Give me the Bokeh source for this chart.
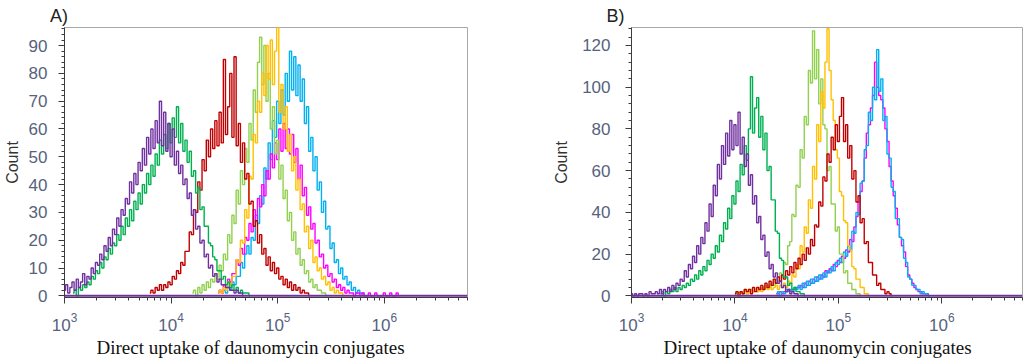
from bokeh.plotting import figure
from bokeh.layouts import row
from bokeh.models import Range1d, SingleIntervalTicker, FixedTicker, Span, Title
from bokeh.embed import file_html
from bokeh.resources import INLINE

# ---------------- data ----------------
BIN_W = 0.02           # histogram bin width in log10 units
X_MIN_LOG = 3.0
X_MAX_LOG = 6.78
X_TICK_DECADES = [3, 4, 5, 6]
X_LABEL = "Direct uptake of daunomycin  conjugates"
Y_LABEL = "Count"
PANEL_TITLES = ["A)", "B)"]

PURPLE = "#7030a0"
GREEN = "#00b050"
RED = "#c00000"
LGREEN = "#92d050"
ORANGE = "#ffc000"
MAGENTA = "#ff00ff"
BLUE = "#00b0f0"

# ---- Panel A (bins start at *_START, step BIN_W) ----
A_PURPLE_START = 3.00
A_PURPLE = [2, 4, 1, 3, 5, 2, 6, 3, 5, 8, 4, 7, 6, 10, 8, 12, 11, 15, 13, 18, 16, 21, 18, 24, 22, 28,
            25, 31, 29, 35, 33, 41, 37, 44, 40, 48, 45, 53, 47, 57, 51, 60, 53, 63, 55, 70, 54, 66, 52,
            62, 50, 60, 47, 52, 44, 47, 40, 42, 35, 37, 29, 31, 24, 25, 19, 20, 14, 15, 10, 11, 7, 8, 5,
            6, 4, 4, 3, 3, 2, 2, 1, 2, 1, 1, 0]
A_GREEN_START = 3.08
A_GREEN = [1, 2, 0, 3, 2, 4, 3, 5, 4, 7, 6, 9, 8, 12, 10, 14, 13, 17, 15, 19, 18, 22, 20, 25, 22, 28,
           25, 31, 27, 34, 31, 37, 33, 40, 37, 44, 40, 47, 43, 51, 47, 56, 51, 58, 53, 62, 55, 64, 57,
           68, 55, 62, 52, 56, 48, 52, 43, 45, 37, 39, 31, 32, 25, 25, 19, 18, 14, 13, 9, 9, 6, 7, 4, 5,
           3, 4, 2, 3, 1, 2, 1, 1, 1, 0]
A_RED_START = 3.80
A_RED = [1, 2, 1, 3, 2, 4, 2, 4, 3, 5, 4, 7, 6, 9, 8, 12, 11, 16, 16, 23, 22, 31, 30, 41, 38, 49, 45,
         56, 50, 60, 53, 63, 54, 66, 55, 85, 58, 68, 80, 57, 86, 54, 62, 48, 55, 42, 44, 33, 34, 25,
         27, 19, 22, 15, 17, 11, 14, 9, 12, 8, 10, 6, 7, 4, 6, 3, 5, 2, 4, 2, 3, 1, 2, 1, 1, 0]
A_LGREEN_START = 4.20
A_LGREEN = [1, 2, 0, 3, 1, 4, 2, 5, 3, 6, 5, 8, 6, 11, 9, 15, 13, 22, 19, 29, 26, 38, 33, 45, 40, 53,
            48, 62, 56, 74, 66, 84, 93, 76, 90, 70, 80, 60, 68, 51, 56, 42, 47, 35, 38, 27, 30, 20, 23,
            15, 17, 11, 13, 8, 9, 5, 6, 3, 4, 2, 2, 1, 1, 0]
A_ORANGE_START = 4.44
A_ORANGE = [1, 2, 1, 3, 2, 5, 4, 7, 7, 13, 12, 20, 19, 31, 28, 43, 42, 58, 55, 70, 66, 80, 72, 90, 78,
            92, 76, 88, 97, 66, 76, 60, 68, 52, 58, 45, 50, 38, 42, 31, 33, 23, 25, 17, 20, 12, 14, 9,
            10, 6, 7, 4, 5, 2, 3, 1, 2, 1, 1, 0]
A_BLUE_START = 4.48
A_BLUE = [1, 2, 1, 3, 2, 5, 4, 7, 7, 12, 10, 15, 18, 15, 21, 20, 29, 26, 36, 33, 46, 42, 55, 49, 63,
          57, 70, 62, 74, 65, 80, 70, 88, 74, 86, 72, 83, 70, 78, 62, 68, 52, 57, 45, 50, 38, 41, 30,
          34, 24, 25, 17, 19, 12, 13, 8, 10, 6, 7, 4, 5, 2, 3, 1, 2, 1, 1, 0]
A_MAGENTA_START = 4.44
A_MAGENTA = [1, 2, 1, 4, 3, 6, 5, 8, 8, 13, 11, 17, 15, 21, 20, 26, 23, 31, 27, 35, 32, 40, 36, 45,
             42, 51, 46, 55, 49, 60, 52, 62, 53, 60, 51, 58, 48, 53, 42, 47, 36, 39, 29, 32, 24, 26,
             19, 20, 14, 15, 10, 11, 7, 8, 5, 6, 3, 4, 2, 3, 1, 2, 1, 1, 0, 1, 1, 0, 1, 0, 0, 1, 0, 0,
             1, 0, 0, 0, 1, 0, 0, 1, 0, 0, 1, 0]

# ---- Panel B ----
B_PURPLE_START = 3.00
B_PURPLE = [1, 0, 1, 0, 1, 1, 0, 1, 0, 2, 1, 1, 2, 1, 3, 1, 3, 2, 4, 2, 5, 3, 6, 5, 8, 7, 12, 9, 15,
            13, 19, 16, 24, 20, 28, 25, 35, 31, 44, 38, 53, 48, 63, 56, 72, 63, 78, 67, 84, 70, 82, 72,
            88, 68, 76, 62, 68, 53, 58, 44, 48, 35, 38, 27, 29, 19, 21, 13, 15, 9, 11, 6, 7, 4, 5, 2, 3,
            1, 2, 1, 1, 0]
B_GREEN_START = 3.28
B_GREEN = [1, 2, 0, 2, 1, 3, 2, 4, 2, 4, 3, 5, 4, 6, 5, 8, 7, 10, 8, 12, 10, 14, 12, 17, 15, 20, 18,
           24, 21, 29, 26, 35, 32, 42, 37, 48, 44, 55, 50, 63, 58, 72, 65, 80, 105, 78, 90, 95, 76, 86,
           70, 78, 60, 62, 46, 46, 31, 30, 18, 17, 9, 9, 5, 6, 3, 4, 2, 2, 1, 1, 0]
B_LGREEN_START = 4.00
B_LGREEN = [1, 2, 1, 2, 1, 3, 1, 2, 3, 2, 3, 2, 4, 3, 4, 5, 5, 4, 6, 5, 8, 7, 11, 9, 16, 15, 24, 26,
            39, 38, 53, 52, 70, 66, 86, 82, 108, 102, 127, 104, 118, 92, 104, 82, 80, 60, 62, 44, 44,
            31, 33, 20, 20, 11, 12, 6, 6, 3, 3, 1, 1, 0]
B_ORANGE_START = 4.00
B_ORANGE = [1, 0, 1, 2, 1, 2, 1, 3, 2, 2, 3, 2, 4, 2, 3, 4, 3, 5, 3, 4, 5, 3, 5, 4, 6, 4, 7, 6, 10, 9,
            15, 13, 24, 21, 33, 30, 46, 42, 62, 56, 82, 74, 98, 90, 112, 128, 108, 94, 84, 70, 66, 50,
            48, 36, 35, 24, 22, 14, 13, 8, 8, 4, 4, 1, 1, 0]
B_RED_START = 4.00
B_RED = [1, 2, 0, 2, 1, 3, 2, 3, 1, 4, 2, 4, 3, 5, 3, 6, 4, 7, 5, 8, 6, 9, 7, 10, 8, 12, 10, 14, 11,
         16, 13, 18, 15, 20, 17, 23, 20, 27, 24, 34, 33, 45, 43, 57, 55, 68, 64, 76, 70, 82, 74, 86,
         95, 74, 82, 66, 72, 56, 60, 45, 48, 35, 37, 25, 26, 16, 16, 10, 10, 5, 6, 3, 3, 1, 2, 1, 0]
B_BLUE_START = 4.40
B_BLUE = [1, 2, 0, 2, 1, 3, 2, 3, 2, 4, 3, 5, 3, 6, 4, 7, 5, 8, 6, 9, 7, 10, 8, 11, 9, 12, 11, 14, 12,
          16, 15, 18, 16, 21, 19, 24, 22, 31, 30, 40, 39, 54, 55, 70, 72, 88, 84, 100, 94, 118, 98,
          104, 84, 86, 68, 66, 52, 50, 37, 37, 28, 27, 18, 16, 9, 8, 5, 5, 3, 3, 1, 2, 1, 1, 0]
B_MAGENTA_START = 4.40
B_MAGENTA = [1, 1, 2, 1, 2, 2, 3, 2, 3, 3, 4, 4, 5, 4, 6, 5, 7, 6, 8, 7, 9, 8, 10, 9, 12, 11, 13, 12,
             15, 14, 17, 16, 19, 18, 22, 21, 27, 26, 33, 38, 45, 50, 55, 66, 78, 82, 90, 96, 112, 100,
             96, 94, 90, 80, 74, 62, 55, 48, 42, 34, 28, 24, 21, 14, 10, 8, 6, 4, 3, 2, 2, 1, 1, 1, 0]

# draw order (first = bottom)
SERIES_A = [(BLUE, A_BLUE_START, A_BLUE), (MAGENTA, A_MAGENTA_START, A_MAGENTA),
            (LGREEN, A_LGREEN_START, A_LGREEN), (ORANGE, A_ORANGE_START, A_ORANGE),
            (RED, A_RED_START, A_RED), (GREEN, A_GREEN_START, A_GREEN),
            (PURPLE, A_PURPLE_START, A_PURPLE)]
SERIES_B = [(MAGENTA, B_MAGENTA_START, B_MAGENTA), (BLUE, B_BLUE_START, B_BLUE),
            (LGREEN, B_LGREEN_START, B_LGREEN), (ORANGE, B_ORANGE_START, B_ORANGE),
            (RED, B_RED_START, B_RED), (GREEN, B_GREEN_START, B_GREEN),
            (PURPLE, B_PURPLE_START, B_PURPLE)]

TICK_COLOR = "#56627e"
AXIS_COLOR = "#3c3c3c"
FONT = "Liberation Sans"


def make_panel(series, y_lo, y_hi, y_interval, b_left, f_width, b_right,
               label_std, axis_label_std, title, title_off, xlab_off):
    p = figure(x_axis_type="log",
               x_range=Range1d(10 ** X_MIN_LOG, 10 ** X_MAX_LOG),
               y_range=Range1d(y_lo, y_hi),
               frame_width=f_width, frame_height=270,
               min_border_left=b_left, min_border_right=b_right,
               min_border_top=27, min_border_bottom=66,
               title=title,
               output_backend="svg", toolbar_location=None)
    p.grid.visible = False
    p.outline_line_color = "#a8a8a8"
    p.outline_line_width = 1
    p.background_fill_color = "white"
    p.border_fill_color = "white"

    p.title.align = "left"
    p.title.offset = title_off
    p.title.standoff = 4
    p.title.text_font = FONT
    p.title.text_font_size = "18px"
    p.title.text_font_style = "normal"
    p.title.text_color = "#222222"

    for color, start, counts in series:
        xs = [10 ** (start + BIN_W * i) for i in range(len(counts))]
        p.step(x=xs, y=counts, mode="center", line_color=color, line_width=1.4)

    p.add_layout(Span(location=0, dimension="width", line_color=PURPLE, line_width=2))

    minors = [k * 10 ** d for d in range(3, 7) for k in range(2, 10) if k * 10 ** d <= 10 ** X_MAX_LOG]
    p.xaxis.ticker = FixedTicker(ticks=[10 ** d for d in X_TICK_DECADES], minor_ticks=minors)
    p.yaxis.ticker = SingleIntervalTicker(interval=y_interval, num_minor_ticks=5)

    for ax in (p.xaxis[0], p.yaxis[0]):
        ax.axis_line_color = AXIS_COLOR
        ax.major_tick_line_color = AXIS_COLOR
        ax.minor_tick_line_color = AXIS_COLOR
        ax.major_tick_in = 0
        ax.major_tick_out = 6
        ax.minor_tick_in = 0
        ax.minor_tick_out = 3
        ax.major_label_text_font = FONT
        ax.major_label_text_font_size = "17px"
        ax.major_label_text_color = TICK_COLOR
    p.xaxis.major_label_standoff = 9
    p.yaxis.major_label_standoff = label_std
    p.yaxis.axis_label = Y_LABEL
    p.yaxis.axis_label_text_font = FONT
    p.yaxis.axis_label_text_font_size = "16px"
    p.yaxis.axis_label_text_font_style = "normal"
    p.yaxis.axis_label_text_color = "#333333"
    p.yaxis.axis_label_standoff = axis_label_std

    p.add_layout(Title(text=X_LABEL, align="left", offset=xlab_off, standoff=2,
                       text_font="Liberation Serif", text_font_size="19px",
                       text_font_style="normal", text_color="#111111"), "below")
    return p


pA = make_panel(SERIES_A, -0.6, 96.5, 10, 63, 403, 76, 11, 5, PANEL_TITLES[0], -14.5, 32)
pB = make_panel(SERIES_B, -0.8, 128.6, 20, 88, 391, 3, 15, 9, PANEL_TITLES[1], -25, 32)

layout = row(pA, pB)
open("out.html", "w").write(file_html(layout, INLINE))
